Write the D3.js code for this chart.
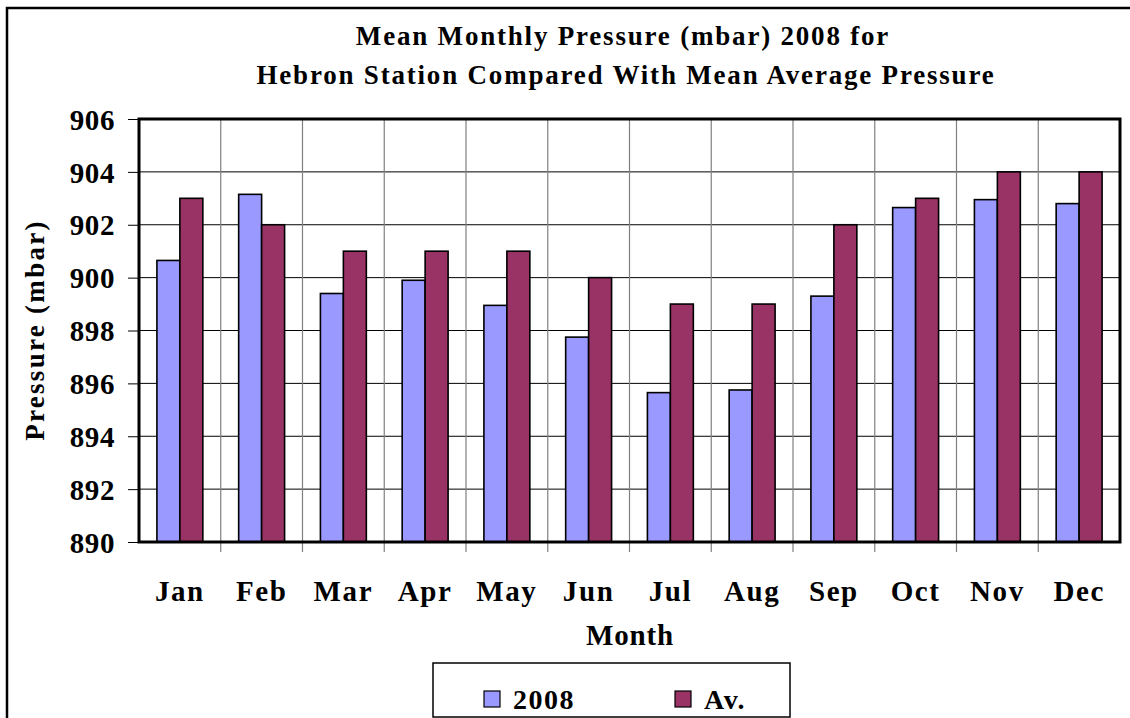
<!DOCTYPE html>
<html>
<head>
<meta charset="utf-8">
<script src="https://cdn.jsdelivr.net/npm/d3@7"></script>
<style>
  body { margin: 0; background: #fff; }
</style>
</head>
<body>
<svg id="mainsvg" width="1130" height="718"></svg>
<script>
const months = ["Jan", "Feb", "Mar", "Apr", "May", "Jun", "Jul", "Aug", "Sep", "Oct", "Nov", "Dec"]
const seriesNames = ["2008", "Av."]
const values2008 = [900.65, 903.15, 899.4, 899.9, 898.95, 897.75, 895.65, 895.75, 899.3, 902.65, 902.95, 902.8]
const valuesAv = [903, 902, 901, 901, 901, 900, 899, 899, 902, 903, 904, 904]
const yTicks = [890, 892, 894, 896, 898, 900, 902, 904, 906]
const colors = ["#9999ff", "#993366"]
const FONT = "'Liberation Serif', 'Times New Roman', serif"

const svg = d3.select('#mainsvg')
const margin = { top: 119, right: 10, bottom: 176, left: 139 }
const width = +svg.attr("width")
const height = +svg.attr("height")
const innerWidth = 1120 - margin.left
const innerHeight = 542 - margin.top

// outer chart frame (runs off the right and bottom edges)
svg.append("rect")
  .attr("x", 7).attr("y", 8)
  .attr("width", width + 20).attr("height", height + 20)
  .attr("fill", "none").attr("stroke", "#000").attr("stroke-width", 2.5)

const data = months.map((m, i) => ({ month: m, vals: [values2008[i], valuesAv[i]] }))

const xScale = d3.scaleBand().domain(months).range([0, innerWidth]).padding(0)
const x1 = d3.scaleBand().domain(seriesNames).range([0, xScale.bandwidth()])
  .paddingInner(0).paddingOuter(0.78)
const yScale = d3.scaleLinear().domain([890, 906]).range([innerHeight, 0])

const g = svg.append('g').attr("transform", `translate(${margin.left}, ${margin.top})`)

// horizontal gridlines
g.append("g").selectAll("line").data(yTicks).join("line")
  .attr("x1", 0).attr("x2", innerWidth)
  .attr("y1", d => yScale(d)).attr("y2", d => yScale(d))
  .attr("stroke", "#000").attr("stroke-width", 1)

// vertical gridlines between months
const bounds = months.slice(1).map(m => xScale(m))
g.append("g").selectAll("line").data(bounds).join("line")
  .attr("x1", d => d).attr("x2", d => d)
  .attr("y1", 0).attr("y2", innerHeight + 10)
  .attr("stroke", "#808080").attr("stroke-width", 1.2)

function label(sel, size, ls) {
  return sel.style("font-family", FONT).style("font-weight", "bold").style("font-size", size)
    .style("letter-spacing", ls || "1.8px").attr("fill", "#000")
}

// y axis
const yAxis = d3.axisLeft(yScale).tickValues(yTicks).tickSize(11).tickPadding(13).tickFormat(d3.format("d"))
const ya = g.append("g").call(yAxis)
ya.select(".domain").remove()
ya.selectAll(".tick line").attr("stroke", "#000")
label(ya.selectAll(".tick text"), "29px", "0.6px").attr("dy", "0.35em")

// x axis labels
const xAxis = d3.axisBottom(xScale).tickSize(0)
const xa = g.append("g").attr("transform", `translate(0, ${innerHeight})`).call(xAxis)
xa.select(".domain").remove()
label(xa.selectAll(".tick text"), "29px", "1.6px").attr("dy", "0").attr("y", 59)

// bars
const groups = g.selectAll(".grp").data(data).join("g")
  .attr("transform", d => `translate(${xScale(d.month)},0)`)
groups.selectAll("rect").data(d => d.vals.map((v, i) => ({ key: seriesNames[i], v, i }))).join("rect")
  .attr("x", d => x1(d.key))
  .attr("width", x1.bandwidth())
  .attr("y", d => yScale(d.v))
  .attr("height", d => innerHeight - yScale(d.v))
  .attr("fill", d => colors[d.i])
  .attr("stroke", "#000").attr("stroke-width", 1.6)

// plot frame
g.append("rect").attr("width", innerWidth).attr("height", innerHeight)
  .attr("fill", "none").attr("stroke", "#000").attr("stroke-width", 3)

// titles
label(svg.append("text"), "27px").attr("x", 623).attr("y", 45).attr("text-anchor", "middle")
  .text("Mean Monthly Pressure (mbar) 2008 for")
label(svg.append("text"), "27px").attr("x", 626).attr("y", 84).attr("text-anchor", "middle")
  .text("Hebron Station Compared With Mean Average Pressure")
label(svg.append("text"), "27px", "2.3px").attr("transform", "translate(44, 330) rotate(-90)").attr("text-anchor", "middle")
  .text("Pressure (mbar)")
label(svg.append("text"), "29px", "0.8px").attr("x", 630).attr("y", 645).attr("text-anchor", "middle")
  .text("Month")

// legend
const lg = svg.append("g").attr("transform", "translate(433, 663)")
lg.append("rect").attr("width", 357).attr("height", 54)
  .attr("fill", "#fff").attr("stroke", "#000").attr("stroke-width", 1.5)
const legX = [51, 242]
seriesNames.forEach((s, i) => {
  lg.append("rect").attr("x", legX[i]).attr("y", 28).attr("width", 16).attr("height", 16)
    .attr("fill", colors[i]).attr("stroke", "#000").attr("stroke-width", 1.2)
  label(lg.append("text"), "28px", "1.5px").attr("x", legX[i] + 29).attr("y", 46).text(s)
})
</script>
</body>
</html>
